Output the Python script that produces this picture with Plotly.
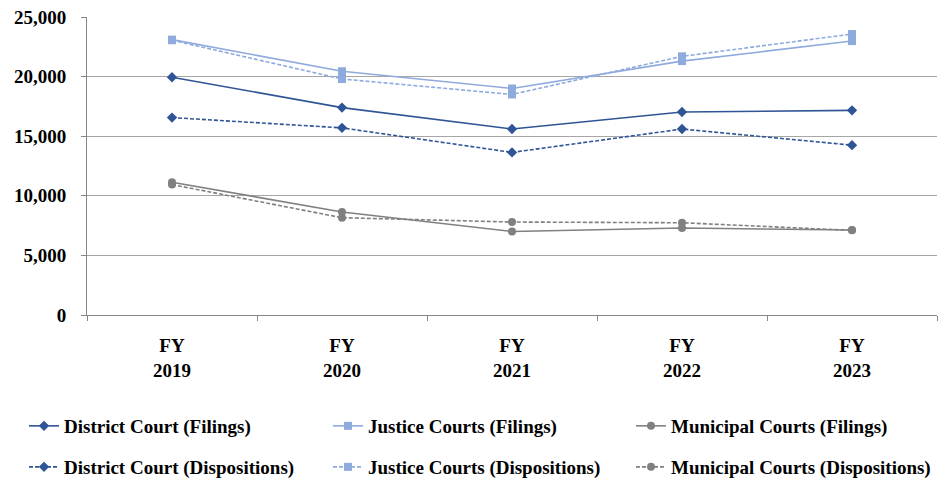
import plotly.graph_objects as go

years = ["FY<br>2019", "FY<br>2020", "FY<br>2021", "FY<br>2022", "FY<br>2023"]
district_filings = [19950, 17400, 15600, 17030, 17170]
district_dispositions = [16560, 15700, 13640, 15600, 14250]
justice_filings = [23100, 20450, 19000, 21300, 22980]
justice_dispositions = [23050, 19800, 18500, 21700, 23570]
municipal_filings = [11140, 8640, 7010, 7300, 7130]
municipal_dispositions = [10940, 8160, 7800, 7740, 7100]
y_ticks = [0, 5000, 10000, 15000, 20000, 25000]

DARK = "#2F5597"
LIGHT = "#8FAADC"
GRAY = "#808080"
FONT = "Liberation Serif"

# page body has an 8px margin, so the figure is sized to the remaining area
W, H = 941, 470
OFF = 8

series = [
    ("District Court (Filings)", district_filings, DARK, "diamond", 8, "solid"),
    ("Justice Courts (Filings)", justice_filings, LIGHT, "square", 8, "solid"),
    ("Municipal Courts (Filings)", municipal_filings, GRAY, "circle", 8, "solid"),
    ("District Court (Dispositions)", district_dispositions, DARK, "diamond", 8, "4px,2px"),
    ("Justice Courts (Dispositions)", justice_dispositions, LIGHT, "square", 8, "4px,2px"),
    ("Municipal Courts (Dispositions)", municipal_dispositions, GRAY, "circle", 8, "4px,2px"),
]

bold = dict(family=FONT, size=19, color="#000000", weight="bold")

col_x = [24, 328, 631]
row_y = [426, 467]

fig = go.Figure()
legend_layout = {}
for i, (name, vals, color, sym, size, dash) in enumerate(series):
    key = "legend" if i == 0 else f"legend{i + 1}"
    fig.add_trace(go.Scatter(
        x=years, y=vals, name=name, mode="lines+markers",
        line=dict(color=color, width=1.6, dash=dash),
        marker=dict(symbol=sym, size=size, color=color),
        legend=key,
    ))
    legend_layout[key] = dict(
        orientation="h", xanchor="left", yanchor="middle",
        xref="container", yref="container",
        x=(col_x[i % 3] - OFF) / W, y=1 - (row_y[i // 3] - OFF) / H,
        font=bold, bgcolor="rgba(0,0,0,0)", itemwidth=30,
    )

fig.update_layout(
    width=W, height=H,
    margin=dict(l=87 - OFF, r=12, t=17 - OFF, b=163, autoexpand=False),
    paper_bgcolor="white", plot_bgcolor="white",
    font=bold,
    showlegend=True,
    xaxis=dict(
        type="category", tickson="boundaries", ticks="outside", ticklen=5,
        tickcolor="#868686", showline=True, linecolor="#868686", linewidth=1,
        showgrid=False, tickfont=bold, automargin=False,
        ticklabelstandoff=13, range=[-0.5, 4.5],
    ),
    yaxis=dict(
        range=[0, 25000], tickvals=y_ticks, tickformat=",d",
        showgrid=True, gridcolor="#A6A6A6", gridwidth=1,
        showline=True, linecolor="#868686", linewidth=1,
        ticks="outside", ticklen=5, tickcolor="#868686",
        zeroline=False, tickfont=bold, automargin=False,
        ticklabelstandoff=11, ticklabeloverflow="allow",
    ),
    **legend_layout,
)

fig.write_html("out.html")
